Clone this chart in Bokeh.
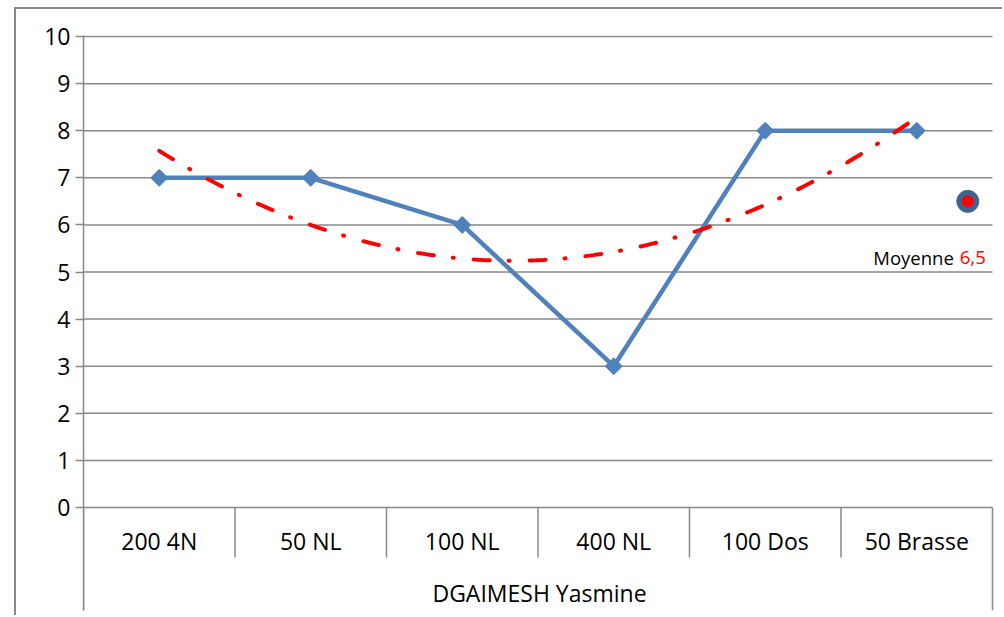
import numpy as np
from bokeh.plotting import figure
from bokeh.models import Range1d, FixedTicker, ColumnDataSource
from bokeh.core.properties import value
from bokeh.embed import file_html
from bokeh.resources import INLINE

# ---- data ----
swimmer = "DGAIMESH Yasmine"
events = ["200 4N", "50 NL", "100 NL", "400 NL", "100 Dos", "50 Brasse"]
scores = [7, 7, 6, 3, 8, 8]
y_ticks = [0, 1, 2, 3, 4, 5, 6, 7, 8, 9, 10]
mean_label = "Moyenne"

FONT = "Open Sans"
GRID = "#898989"
BLUE = "#4F81BD"

n = len(events)
xs = list(range(1, n + 1))
mean_val = float(np.mean(scores))
mean_txt = f"{mean_val:.1f}".replace(".", ",")

# polynomial (order 2) trend line, as in the spreadsheet
coef = np.polyfit(xs, scores, 2)
tx = np.linspace(1, n, 200)
ty = np.polyval(coef, tx)

Y_LOW = -2.187  # bottom of the category block (below 0)
Y_HIGH = 10.022  # a hair above the top grid line so it is not clipped

p = figure(width=988, height=608, output_backend="svg", toolbar_location=None,
           x_range=Range1d(0.5, n + 0.52), y_range=Range1d(Y_LOW, Y_HIGH),
           min_border_left=67, min_border_right=9, min_border_top=26,
           min_border_bottom=7)
p.styles = {"margin-left": "14px", "margin-top": "7px",
            "border-left": "2px solid #898989", "border-top": "2px solid #898989"}
p.outline_line_color = None
p.background_fill_color = "white"
p.border_fill_color = "white"

# y axis
p.yaxis.ticker = FixedTicker(ticks=y_ticks)
p.yaxis.axis_line_color = GRID
p.yaxis.axis_line_width = 1.5
p.yaxis.major_tick_line_color = GRID
p.yaxis.major_tick_line_width = 1.5
p.yaxis.major_tick_out = 8
p.yaxis.major_tick_in = 0
p.yaxis.minor_tick_line_color = None
p.yaxis.major_label_standoff = 5
p.yaxis.major_label_text_font = FONT
p.yaxis.major_label_text_font_size = "23px"
p.yaxis.major_label_text_color = "black"

# horizontal grid lines (ending at the right edge of the last category)
p.ygrid.grid_line_color = None
p.xgrid.grid_line_color = None
p.segment(x0=[0.5] * len(y_ticks), y0=y_ticks, x1=[n + 0.5] * len(y_ticks), y1=y_ticks,
          line_color=GRID, line_width=1.5, level="underlay")

# x axis (categories, drawn up into the category block)
p.xaxis.ticker = FixedTicker(ticks=xs, minor_ticks=[])
p.xaxis.major_label_overrides = {x: e for x, e in zip(xs, events)}
p.xaxis.axis_line_color = None
p.xaxis.major_tick_line_color = None
p.xaxis.minor_tick_line_color = None
p.xaxis.major_tick_out = 0
p.xaxis.major_tick_in = 0
p.xaxis.minor_tick_out = 0
p.xaxis.major_label_standoff = -86
p.xaxis.major_label_text_font = FONT
p.xaxis.major_label_text_font_size = "23px"
p.xaxis.major_label_text_color = "black"
p.xaxis.axis_label = swimmer
p.xaxis.axis_label_text_font = FONT
p.xaxis.axis_label_text_font_size = "23px"
p.xaxis.axis_label_text_font_style = "normal"
p.xaxis.axis_label_text_color = "black"
p.xaxis.axis_label_standoff = 17

# separators of the category block
bounds = [x - 0.5 for x in xs] + [n + 0.5]
ends = [Y_LOW] + [-1.06] * (n - 1) + [Y_LOW]
p.segment(x0=bounds, y0=[0] * len(bounds), x1=bounds, y1=ends,
          line_color=GRID, line_width=1.5)

# data series
src = ColumnDataSource(dict(x=xs, y=scores))
p.line("x", "y", source=src, line_color=BLUE, line_width=4.5)
p.scatter("x", "y", source=src, marker="square", angle=np.pi / 4, size=12,
          fill_color=BLUE, line_color=BLUE)

# trend line
p.line(tx, ty, line_color="#FF0000", line_width=4, line_dash="16 19 1 20", line_cap="round")

# mean marker
mx = n + 0.337
p.scatter([mx], [mean_val], size=22, fill_color="#41638F", line_color="#41638F")
p.scatter([mx], [mean_val], size=11, fill_color="#FF0000", line_color="#FF0000")
p.text([mx], [mean_val], text=[mean_label], x_offset=-14, y_offset=56,
       text_align="right", text_baseline="alphabetic", text_font=value(FONT),
       text_font_size="18.5px", text_color="black")
p.text([mx], [mean_val], text=[mean_txt], x_offset=-8, y_offset=56,
       text_align="left", text_baseline="alphabetic", text_font=value(FONT),
       text_font_size="18.5px", text_color="#FF0000")

open("out.html", "w").write(file_html(p, INLINE))
